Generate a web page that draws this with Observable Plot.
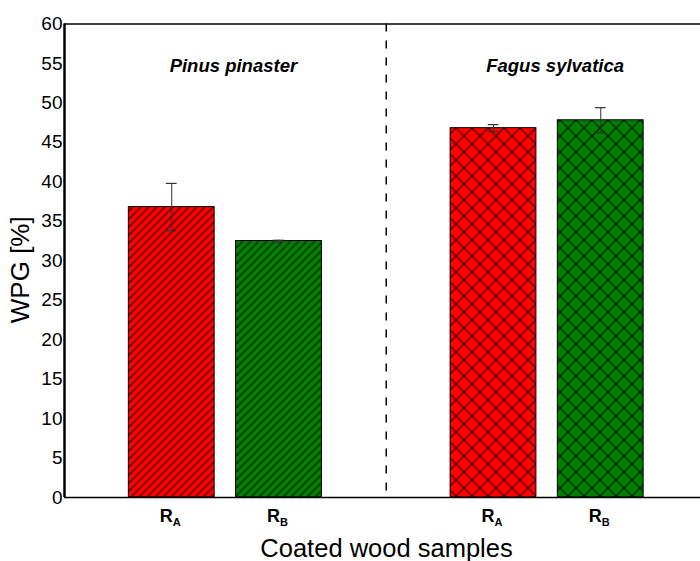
<!DOCTYPE html>
<html>
<head>
<meta charset="utf-8">
<script src="https://cdn.jsdelivr.net/npm/d3@7"></script>
<script src="https://cdn.jsdelivr.net/npm/@observablehq/plot@0.6"></script>
<style>
  html, body { margin: 0; padding: 0; background: #fff; }
  #chart svg { display: block; }
</style>
</head>
<body>
<div id="chart"></div>
<script>
// ---- data ----
const groups = ["Pinus pinaster", "Fagus sylvatica"];
const sampleLetters = ["A", "B"];
const wpgValues = [36.8, 32.5, 46.8, 47.8];   // [P.RA, P.RB, F.RA, F.RB]
const wpgErrors = [3.0, 0.1, 0.45, 1.6];
const yTicks = [0, 5, 10, 15, 20, 25, 30, 35, 40, 45, 50, 55, 60];
const barColors = ["#ff0000", "#008000"];
const yLabel = "WPG [%]";
const xLabel = "Coated wood samples";

// table built from the arrays (slot = position along the categorical axis)
const rows = [];
groups.forEach((g, gi) => sampleLetters.forEach((s, si) => {
  const i = gi * sampleLetters.length + si;
  rows.push({group: g, gi, sample: s, slot: gi * 3 + si + 1, value: wpgValues[i], err: wpgErrors[i]});
}));
const titles = groups.map((g, gi) => ({group: g, slot: gi * 3 + 1.5}));
const divider = [3];
const half = 0.4;

const font = "'Liberation Sans', Arial, sans-serif";

const chart = Plot.plot({
  width: 700,
  height: 561,
  marginLeft: 64,
  marginRight: 0,
  marginTop: 23.5,
  marginBottom: 64,
  style: {fontFamily: font, background: "#fff", color: "#000"},
  x: {type: "linear", domain: [0, 6], range: [64, 707.5], axis: null},
  y: {domain: [0, 60], axis: null},
  color: {domain: sampleLetters, range: barColors},
  marks: [
    // bars: colour fill, then hatch overlay
    Plot.rectY(rows, {x1: d => d.slot - half, x2: d => d.slot + half, y1: 0, y2: "value", fill: "sample"}),
    Plot.rectY(rows.filter(d => d.gi === 0), {x1: d => d.slot - half, x2: d => d.slot + half, y1: 0, y2: "value", fill: "url(#hatchDiag)", stroke: "#000", strokeWidth: 1}),
    Plot.rectY(rows.filter(d => d.gi === 1), {x1: d => d.slot - half, x2: d => d.slot + half, y1: 0, y2: "value", fill: "url(#hatchCross)", stroke: "#000", strokeWidth: 1}),
    // error bars
    Plot.ruleX(rows, {x: "slot", y1: d => d.value - d.err, y2: d => d.value + d.err, stroke: "#333", strokeWidth: 1}),
    Plot.ruleY(rows, {y: d => d.value + d.err, x1: d => d.slot - 0.05, x2: d => d.slot + 0.05, stroke: "#333", strokeWidth: 1.2}),
    Plot.ruleY(rows, {y: d => d.value - d.err, x1: d => d.slot - 0.05, x2: d => d.slot + 0.05, stroke: "#333", strokeWidth: 1.2}),
    // divider
    Plot.ruleX(divider, {x: d => d, stroke: "#000", strokeWidth: 1.5, strokeDasharray: "8,9"}),
    // frame lines
    Plot.ruleY([0, 60], {stroke: "#000", strokeWidth: 1.5}),
    Plot.ruleX([0], {stroke: "#000", strokeWidth: 2.5}),
    // y axis
    Plot.axisY({ticks: yTicks, tickSize: 0, tickPadding: 2, fontSize: 19, label: null, fill: "#000"}),
    // group titles
    Plot.text(titles, {x: "slot", text: "group", frameAnchor: "top", lineAnchor: "top", dy: 35, dx: 8, fontSize: 18.5, fontWeight: "bold", fontStyle: "italic", fill: "#000"}),
    // x tick labels R with subscript
    Plot.text(rows, {x: "slot", text: d => "R", frameAnchor: "bottom", lineAnchor: "bottom", dy: 24, dx: 1, textAnchor: "end", fontSize: 18, fontWeight: "bold", fill: "#000"}),
    Plot.text(rows, {x: "slot", text: "sample", frameAnchor: "bottom", lineAnchor: "bottom", dy: 28, dx: 1, textAnchor: "start", fontSize: 11, fontWeight: "bold", fill: "#000"}),
    // axis titles
    Plot.text([yLabel], {text: d => d, frameAnchor: "left", textAnchor: "middle", lineAnchor: "bottom", dx: -36, dy: 9, rotate: -90, fontSize: 26, fill: "#000"}),
    Plot.text([xLabel], {text: d => d, frameAnchor: "bottom", textAnchor: "middle", lineAnchor: "bottom", dx: 4, dy: 59, fontSize: 25.5, fill: "#000"})
  ]
});

// hatch patterns (lines drawn through tile middles, then rotated)
const svg = d3.select(chart);
const defs = svg.insert("defs", ":first-child");
const s1 = 8 / Math.SQRT2;
const p1 = defs.append("pattern").attr("id", "hatchDiag").attr("patternUnits", "userSpaceOnUse")
  .attr("width", s1).attr("height", s1).attr("patternTransform", "rotate(-45)");
p1.append("path").attr("d", `M-1,${s1 / 2} H${s1 + 1}`)
  .attr("stroke", "#000").attr("stroke-width", 1).attr("fill", "none");
const s2 = 16 / Math.SQRT2;
const p2 = defs.append("pattern").attr("id", "hatchCross").attr("patternUnits", "userSpaceOnUse")
  .attr("width", s2).attr("height", s2).attr("patternTransform", "rotate(45)");
p2.append("path").attr("d", `M-1,${s2 / 2} H${s2 + 1} M${s2 / 2},-1 V${s2 + 1}`)
  .attr("stroke", "#000").attr("stroke-width", 1).attr("fill", "none");

document.getElementById("chart").appendChild(chart);
</script>
</body>
</html>
